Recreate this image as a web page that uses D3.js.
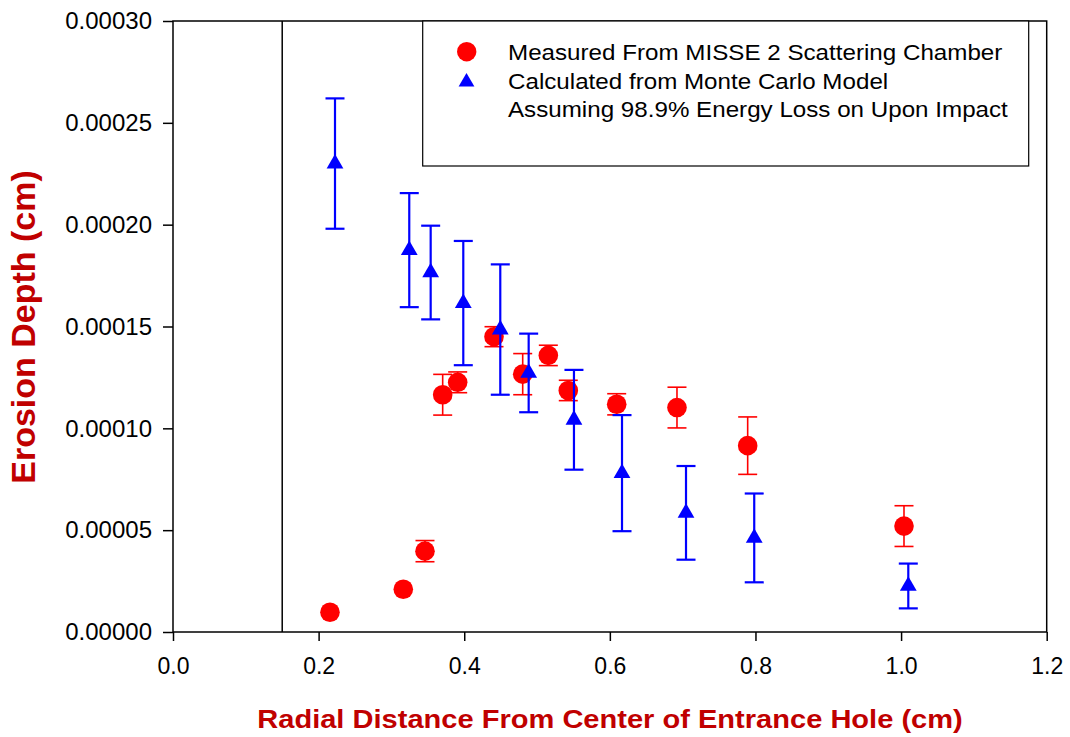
<!DOCTYPE html>
<html>
<head>
<meta charset="utf-8">
<script src="https://cdn.jsdelivr.net/npm/d3@7"></script>
<style>
  body { margin: 0; background: #fff; }
  svg { display: block; font-family: "Liberation Sans", Arial, sans-serif; }
</style>
</head>
<body>
<div class="svg-container"></div>
<script>
// measured points (erosion depth in units of 1e-5 cm)
const measuredX   = [0.2156, 0.3163, 0.3461, 0.3704, 0.391, 0.4409, 0.4803, 0.5155, 0.5429, 0.6094, 0.6922, 0.7893, 1.004];
const measuredY   = [0.97, 2.10, 3.97, 11.65, 12.26, 14.50, 12.66, 13.58, 11.86, 11.18, 11.02, 9.15, 5.20];
const measuredErr = [0, 0, 0.52, 1.0, 0.51, 0.49, 1.01, 0.5, 0.5, 0.52, 1.0, 1.41, 1.0];

// monte carlo model
const modelX   = [0.2225, 0.3245, 0.3539, 0.3987, 0.4495, 0.4885, 0.5507, 0.6167, 0.7046, 0.7983, 1.0099];
const modelY   = [23.0, 18.75, 17.65, 16.15, 14.85, 12.72, 10.42, 7.8, 5.85, 4.62, 2.26];
const modelErr = [3.2, 2.8, 2.3, 3.05, 3.2, 1.93, 2.45, 2.85, 2.3, 2.18, 1.1];

const xTicks = [0, 0.2, 0.4, 0.6, 0.8, 1.0, 1.2];
const yTicks = [0, 5e-5, 10e-5, 15e-5, 20e-5, 25e-5, 30e-5];
const holeEdge = 0.15;

const legendLabels = [
  'Measured From MISSE 2 Scattering Chamber',
  'Calculated from Monte Carlo Model',
  'Assuming 98.9% Energy Loss on Upon Impact'
];

const widthSVG = 1070;
const heightSVG = 737;
const plotLeft = 173, plotRight = 1046.7, plotTop = 21, plotBottom = 632;
const titleRed = '#c00000';

const svg = d3.select('.svg-container')
  .append('svg')
  .attr('width', widthSVG)
  .attr('height', heightSVG);

const x = d3.scaleLinear().domain([0, 1.2]).range([plotLeft, plotRight]);
const y = d3.scaleLinear().domain([0, 0.0003]).range([plotBottom, plotTop]);

const measured = measuredX.map((d, i) => ({x: d, y: measuredY[i] * 1e-5, e: measuredErr[i] * 1e-5}));
const model = modelX.map((d, i) => ({x: d, y: modelY[i] * 1e-5, e: modelErr[i] * 1e-5}));

// axes
const yAxis = d3.axisLeft(y).tickValues(yTicks).tickFormat(d3.format('.5f'))
  .tickSize(10).tickSizeOuter(0).tickPadding(11);
const xAxis = d3.axisBottom(x).tickValues(xTicks).tickFormat(d3.format('.1f'))
  .tickSize(9).tickSizeOuter(0).tickPadding(17);

const gy = svg.append('g').attr('transform', `translate(${plotLeft},0)`).call(yAxis);
const gx = svg.append('g').attr('transform', `translate(0,${plotBottom})`).call(xAxis);
[gx, gy].forEach(g => {
  g.select('.domain').remove();
  g.selectAll('line').attr('stroke', '#000').attr('stroke-width', 1.5);
  g.selectAll('text').attr('fill', '#000').attr('font-family', '"Liberation Sans", Arial, sans-serif');
});
gy.selectAll('text').attr('font-size', 24);
gx.selectAll('text').attr('font-size', 23);

// frame
svg.append('rect')
  .attr('x', plotLeft).attr('y', plotTop)
  .attr('width', plotRight - plotLeft).attr('height', plotBottom - plotTop)
  .attr('fill', 'none').attr('stroke', '#000').attr('stroke-width', 1.5);

// entrance hole edge
svg.append('line')
  .attr('x1', x(holeEdge)).attr('x2', x(holeEdge))
  .attr('y1', plotTop).attr('y2', plotBottom)
  .attr('stroke', '#000').attr('stroke-width', 1.5);

// legend box
svg.append('rect')
  .attr('x', 422.7).attr('y', plotTop)
  .attr('width', 1028.7 - 422.7).attr('height', 166 - plotTop)
  .attr('fill', '#fff').attr('stroke', '#000').attr('stroke-width', 1.2);

function drawErrorBars(data, color, sw) {
  const g = svg.append('g').attr('stroke', color).attr('stroke-width', sw).attr('fill', 'none');
  data.filter(d => d.e > 0).forEach(d => {
    const cx = x(d.x);
    g.append('line').attr('x1', cx).attr('x2', cx).attr('y1', y(d.y + d.e)).attr('y2', y(d.y - d.e));
    [d.y + d.e, d.y - d.e].forEach(v => {
      g.append('line').attr('x1', cx - 9.5).attr('x2', cx + 9.5).attr('y1', y(v)).attr('y2', y(v));
    });
  });
}

// measured (red)
drawErrorBars(measured, '#ff0000', 1.6);
svg.append('g').selectAll('circle')
  .data(measured)
  .enter().append('circle')
  .attr('cx', d => x(d.x))
  .attr('cy', d => y(d.y))
  .attr('r', 9.8)
  .attr('fill', '#ff0000');

// model (blue)
drawErrorBars(model, '#0000ff', 2.2);
const tri = d3.symbol().type(d3.symbolTriangle).size(122);
svg.append('g').selectAll('path')
  .data(model)
  .enter().append('path')
  .attr('transform', d => `translate(${x(d.x)},${y(d.y)})`)
  .attr('d', tri)
  .attr('fill', '#0000ff');

// legend entries
svg.append('circle').attr('cx', 466.7).attr('cy', 51.7).attr('r', 9.7).attr('fill', '#ff0000');
svg.append('path')
  .attr('transform', 'translate(466.5,82)')
  .attr('d', d3.symbol().type(d3.symbolTriangle).size(108))
  .attr('fill', '#0000ff');

const legendY = [60, 89, 117];
legendLabels.forEach((t, i) => {
  svg.append('text')
    .attr('transform', `translate(508,${legendY[i]}) scale(1.075,1)`)
    .attr('font-size', 22.5)
    .attr('fill', '#000')
    .text(t);
});

// axis titles
svg.append('text')
  .attr('transform', `translate(610,728) scale(1.118,1)`)
  .attr('text-anchor', 'middle')
  .attr('font-size', 26)
  .attr('font-weight', 'bold')
  .attr('fill', titleRed)
  .text('Radial Distance From Center of Entrance Hole (cm)');

svg.append('text')
  .attr('transform', 'translate(35,327) rotate(-90)')
  .attr('text-anchor', 'middle')
  .attr('font-size', 34)
  .attr('font-weight', 'bold')
  .attr('fill', titleRed)
  .text('Erosion Depth (cm)');
</script>
</body>
</html>
